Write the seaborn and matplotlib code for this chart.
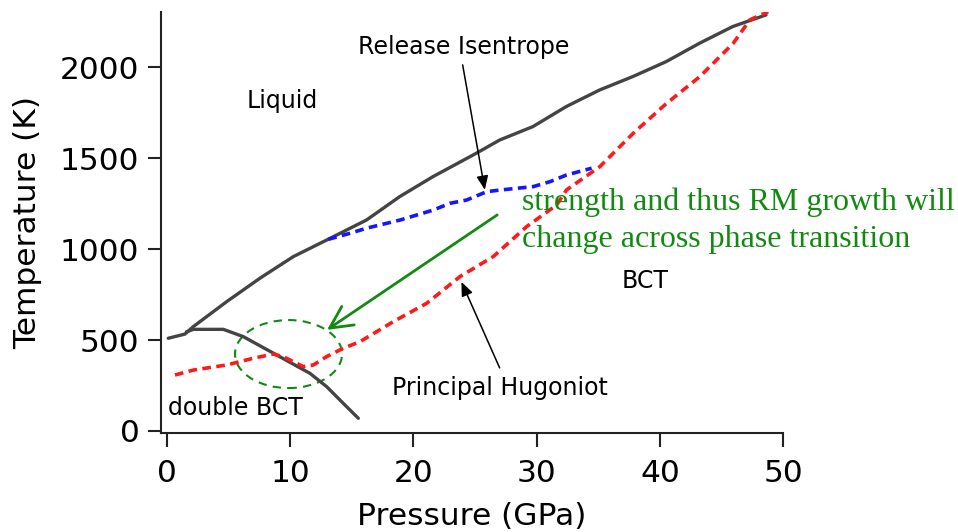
import matplotlib
matplotlib.use("Agg")
import matplotlib.pyplot as plt
from matplotlib.patches import Ellipse
import seaborn as sns
import pandas as pd

# ---- data ----
melt_p = [0.13, 1.48, 2.16, 4.86, 7.56, 10.27, 12.97, 16.2, 18.9, 21.6, 25.1, 27.0,
          29.7, 32.4, 35.1, 37.8, 40.5, 43.2, 45.9, 48.6]
melt_t = [510, 533, 574, 711, 840, 959, 1050, 1160, 1289, 1399, 1527, 1600,
          1674, 1784, 1875, 1949, 2031, 2132, 2224, 2288]

phase_p = [1.6, 2.16, 4.59, 6.21, 8.92, 11.62, 12.97, 14.32, 15.54]
phase_t = [545, 559, 559, 519, 418, 317, 244, 152, 70]

hug_p = [0.67, 2.16, 4.86, 7.02, 8.64, 9.45, 11.08, 11.89, 12.97, 14.32, 15.67, 18.37,
         21.08, 23.78, 26.48, 29.19, 31.62, 32.43, 35.13, 37.83, 40.54, 43.24, 45.94,
         47.29, 48.78]
hug_t = [308, 335, 363, 400, 423, 409, 354, 363, 409, 455, 491, 601,
         702, 849, 959, 1124, 1243, 1326, 1454, 1637, 1802, 1949, 2132,
         2261, 2306]

rel_p = [13.1, 14.86, 16.2, 18.92, 21.62, 22.97, 24.32, 25.95, 27.03, 29.73, 31.08,
         32.43, 34.46]
rel_t = [1054, 1087, 1115, 1160, 1215, 1252, 1270, 1316, 1325, 1344, 1371, 1408, 1445]

x_ticks = [0, 10, 20, 30, 40, 50]
y_ticks = [0, 500, 1000, 1500, 2000]

region_labels = ["Liquid", "BCT", "double BCT"]
region_pos = [(6.49, 1815), (36.9, 825), (0.13, 127)]

note_lines = ["strength and thus RM growth will", "change across phase transition"]

# ---- style ----
sns.set_style("ticks")
plt.rcParams["font.family"] = ["DejaVu Sans"]
plt.rcParams["text.color"] = "black"
plt.rcParams["axes.labelcolor"] = "black"

fig = plt.figure(figsize=(9.58, 5.32), dpi=100)
ax = fig.add_axes([161 / 958, 1 - 433 / 532, (783.3 - 161) / 958, (433 - 12) / 532])

line_col = "#444444"
green = "#128a12"

sns.lineplot(x=melt_p, y=melt_t, ax=ax, color=line_col, lw=2.4, sort=False)
sns.lineplot(x=phase_p, y=phase_t, ax=ax, color=line_col, lw=2.4, sort=False)
sns.lineplot(x=rel_p, y=rel_t, ax=ax, color="#1515ff", lw=2.6, sort=False,
             linestyle=(0, (2.4, 1.5)))
sns.lineplot(x=hug_p, y=hug_t, ax=ax, color="#ff1a1a", lw=2.6, sort=False,
             linestyle=(0, (2.4, 1.5)))

ax.set_xlim(-0.46, 50)
ax.set_ylim(-11, 2304)
ax.set_xticks(x_ticks)
ax.set_yticks(y_ticks)
ax.tick_params(axis="both", labelsize=22.5, width=1.5, color="#222222", labelcolor="black")
ax.tick_params(axis="x", length=10, pad=9)
ax.tick_params(axis="y", length=9.5, pad=6)
for s in ["left", "bottom"]:
    ax.spines[s].set_linewidth(1.5)
    ax.spines[s].set_color("#222222")
sns.despine(ax=ax)

ax.set_xlabel("Pressure (GPa)", fontsize=22.5, labelpad=10)
ax.set_ylabel("Temperature (K)", fontsize=22.5, labelpad=13)

# region labels
for lab, (px, py) in zip(region_labels, region_pos):
    ax.text(px, py, lab, fontsize=17, ha="left", va="center", color="black")

# annotated curve labels with arrows
ax.annotate("", xy=(25.8, 1326), xytext=(24.0, 2013),
            arrowprops=dict(arrowstyle="-|>,head_length=0.6,head_width=0.25",
                            color="black", lw=1.1, mutation_scale=14,
                            shrinkA=0, shrinkB=0))
ax.text(15.54, 2112, "Release Isentrope", fontsize=17, ha="left", va="center")

ax.annotate("", xy=(23.9, 820), xytext=(27.0, 347),
            arrowprops=dict(arrowstyle="-|>,head_length=0.6,head_width=0.25",
                            color="black", lw=1.1, mutation_scale=14,
                            shrinkA=0, shrinkB=0))
ax.text(18.24, 237, "Principal Hugoniot", fontsize=17, ha="left", va="center")

# green annotation
ax.add_patch(Ellipse((9.88, 423), 8.68, 374, fill=False, edgecolor=green,
                     lw=1.5, linestyle=(0, (4, 3))))
ax.annotate("", xy=(13.0, 556), xytext=(26.8, 1188),
            arrowprops=dict(arrowstyle="->,head_length=0.8,head_width=0.4",
                            color=green, lw=2, mutation_scale=20,
                            shrinkA=0, shrinkB=0))
for line, yb in zip(note_lines, [1215, 1012]):
    ax.text(28.79, yb, line, fontsize=23, ha="left", va="baseline", color=green,
            family=["Liberation Serif"], clip_on=False)

fig.savefig("out.png", dpi=100)
